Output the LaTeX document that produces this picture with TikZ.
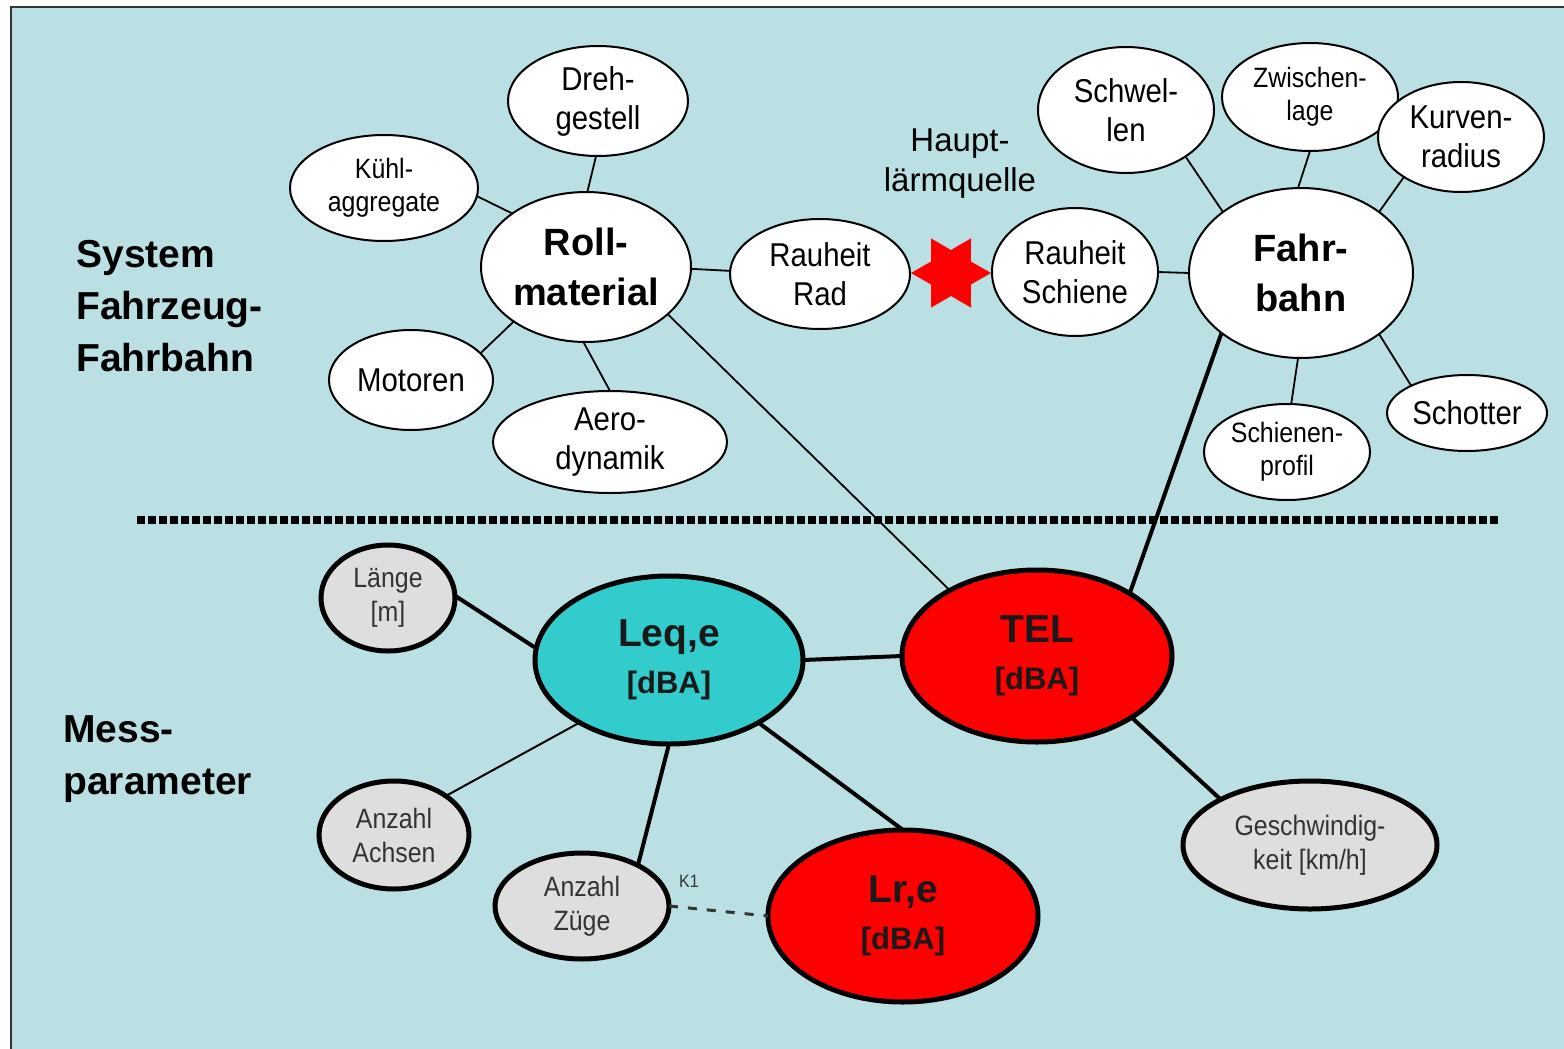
\documentclass[tikz,border=0pt]{standalone}
\usepackage{fontspec}
\setmainfont{Liberation Sans}
\newfontfamily\narrowfont[FakeStretch=0.89]{Liberation Sans}
\usetikzlibrary{shapes.geometric}
\definecolor{bgc}{HTML}{BAE0E3}
\definecolor{graynode}{HTML}{DEDEDE}
\definecolor{turq}{HTML}{33CCCC}
\definecolor{txtgray}{HTML}{333333}
\definecolor{starred}{HTML}{FF0000}
\begin{document}
\begin{tikzpicture}[x=0.5pt,y=-0.5pt,
  ell/.style 2 args={minimum width=#1pt, minimum height=#2pt},
  topnode/.style={ellipse,draw=black,line width=1pt,fill=white,inner sep=0pt,outer sep=0pt,align=center,font=\narrowfont\fontsize{16.5}{19.5}\selectfont},
  smalltxt/.style={font=\narrowfont\fontsize{14}{16.5}\selectfont},
  bignode/.style={topnode,font=\fontsize{19}{25}\selectfont\bfseries},
  graynd/.style={ellipse,draw=black,line width=2.5pt,fill=graynode,text=txtgray,inner sep=0pt,outer sep=0pt,align=center,font=\narrowfont\fontsize{14}{17}\selectfont},
  mainnode/.style={ellipse,draw=black,line width=2.5pt,inner sep=0pt,outer sep=0pt,align=center,text=black!90,font=\fontsize{15.5}{23.5}\selectfont\bfseries},
  thinline/.style={line width=0.9pt,black},
  thickline/.style={line width=2pt,black},
  sectlabel/.style={anchor=west,align=left,inner sep=0pt,font=\fontsize{19.5}{26}\selectfont\bfseries}
]
\useasboundingbox (0,0) rectangle (1564,1049);
\fill[white] (0,0) rectangle (1564,1049);
\fill[bgc] (11,7) rectangle (1564,1049);
\draw[line width=1pt,black!80] (11,1049) -- (11,7) -- (1564,7);

% section labels
\node[sectlabel] (sys) at (76,306) {System\\Fahrzeug-\\Fahrbahn};
\node[sectlabel] (mess) at (63,759) {Mess-\\parameter};

% separator
\coordinate (sepL) at (137,520);
\coordinate (sepR) at (1500,520);

% top nodes
\node[topnode, ell={90}{55}] (dreh) at (598,101) {Dreh-\\gestell};
\node[topnode, smalltxt, ell={94}{53}] (kuehl) at (384,188) {Kühl-\\aggregate};
\node[bignode, ell={105}{75}] (roll) at (586,267) {Roll-\\material};
\node[topnode, ell={82}{50}] (mot) at (411,380) {Motoren};
\node[topnode, ell={117}{51}] (aero) at (610,442) {Aero-\\dynamik};
\node[topnode, ell={90}{55}] (rad) at (820,274) {Rauheit\\Rad};
\node[topnode, ell={83}{64}] (schiene) at (1075,272) {Rauheit\\Schiene};
\node[bignode, ell={112}{85}] (fahr) at (1301,273) {Fahr-\\bahn};
\node[topnode, ell={88}{63}] (schwel) at (1126,110) {Schwel-\\len};
\node[topnode, smalltxt, ell={88}{54}] (zw) at (1310,97) {Zwischen-\\lage};
\node[topnode, ell={83}{55}] (kurv) at (1461,137) {Kurven-\\radius};
\node[topnode, ell={80}{38}] (schot) at (1467,413) {Schotter};
\node[topnode, smalltxt, ell={83}{48}] (sprof) at (1287,452) {Schienen-\\profil};
\node[inner sep=0pt,align=center,font=\fontsize{16.5}{20}\selectfont] (haupt) at (960,164) {Haupt-\\lärmquelle};

% star
\fill[starred,shift={(951,273)}] (0:40) -- (30:23) -- (60:40) -- (90:23) -- (120:40) -- (150:23) -- (180:40) -- (210:23) -- (240:40) -- (270:23) -- (300:40) -- (330:23) -- cycle;

% bottom nodes
\node[graynd, ell={67}{53}] (laenge) at (388,598) {Länge\\{[m]}};
\node[graynd, ell={75}{54}] (achsen) at (394,835) {Anzahl\\Achsen};
\node[graynd, ell={87}{53}] (zuege) at (582,906) {Anzahl\\Züge};
\node[graynd, ell={127}{64}] (gesch) at (1310,845) {Geschwindig-\\keit [km/h]};
\node[mainnode, fill=turq, ell={134}{84}] (leq) at (669,660) {{\fontsize{19.5}{23.5}\selectfont Leq,e}\\{[dBA]}};
\node[mainnode, fill=red, ell={135}{86}] (tel) at (1037,656) {{\fontsize{19.5}{23.5}\selectfont TEL}\\{[dBA]}};
\node[mainnode, fill=red, ell={135}{86}] (lr) at (903,916) {{\fontsize{19.5}{23.5}\selectfont Lr,e}\\{[dBA]}};
\node[inner sep=0pt,text=txtgray,font=\narrowfont\fontsize{9}{10}\selectfont] (k1) at (689,881) {K1};

% top connectors
\draw[thinline] (dreh.-92) -- (roll.89);
\draw[thinline] (kuehl.-5) -- (roll.144);
\draw[thinline] (mot.21) -- (roll.-143);
\draw[thinline] (aero.90) -- (roll.-92);
\draw[thinline] (roll.-1) -- (rad.178);
\draw[thinline] (roll.-30) -- (tel.143);
\draw[thinline] (schiene.0) -- (fahr.180);
\draw[thinline] (schwel.-38) -- (fahr.142);
\draw[thinline] (zw.-90) -- (fahr.92);
\draw[thinline] (kurv.-145) -- (fahr.38);
\draw[thinline] (schot.154) -- (fahr.-38);
\draw[thinline] (sprof.85) -- (fahr.-92);
\draw[thickline] (fahr.-143) -- (tel.34);

% separator line
\draw[line width=4pt,dash pattern=on 4pt off 1.5pt] (sepL) -- (sepR);

% bottom connectors
\draw[thickline] (laenge.2) -- (leq.175);
\draw[line width=1pt] (achsen.37) -- (leq.-145);
\draw[thickline] (zuege.36) -- (leq.-90);
\draw[thickline] (leq.0) -- (tel.180);
\draw[thickline] (leq.-35) -- (lr.90);
\draw[thickline] (tel.-33) -- (gesch.153);
\draw[line width=1.5pt,txtgray,dash pattern=on 4.5pt off 5pt] (zuege.0) -- (lr.180);
\end{tikzpicture}
\end{document}
